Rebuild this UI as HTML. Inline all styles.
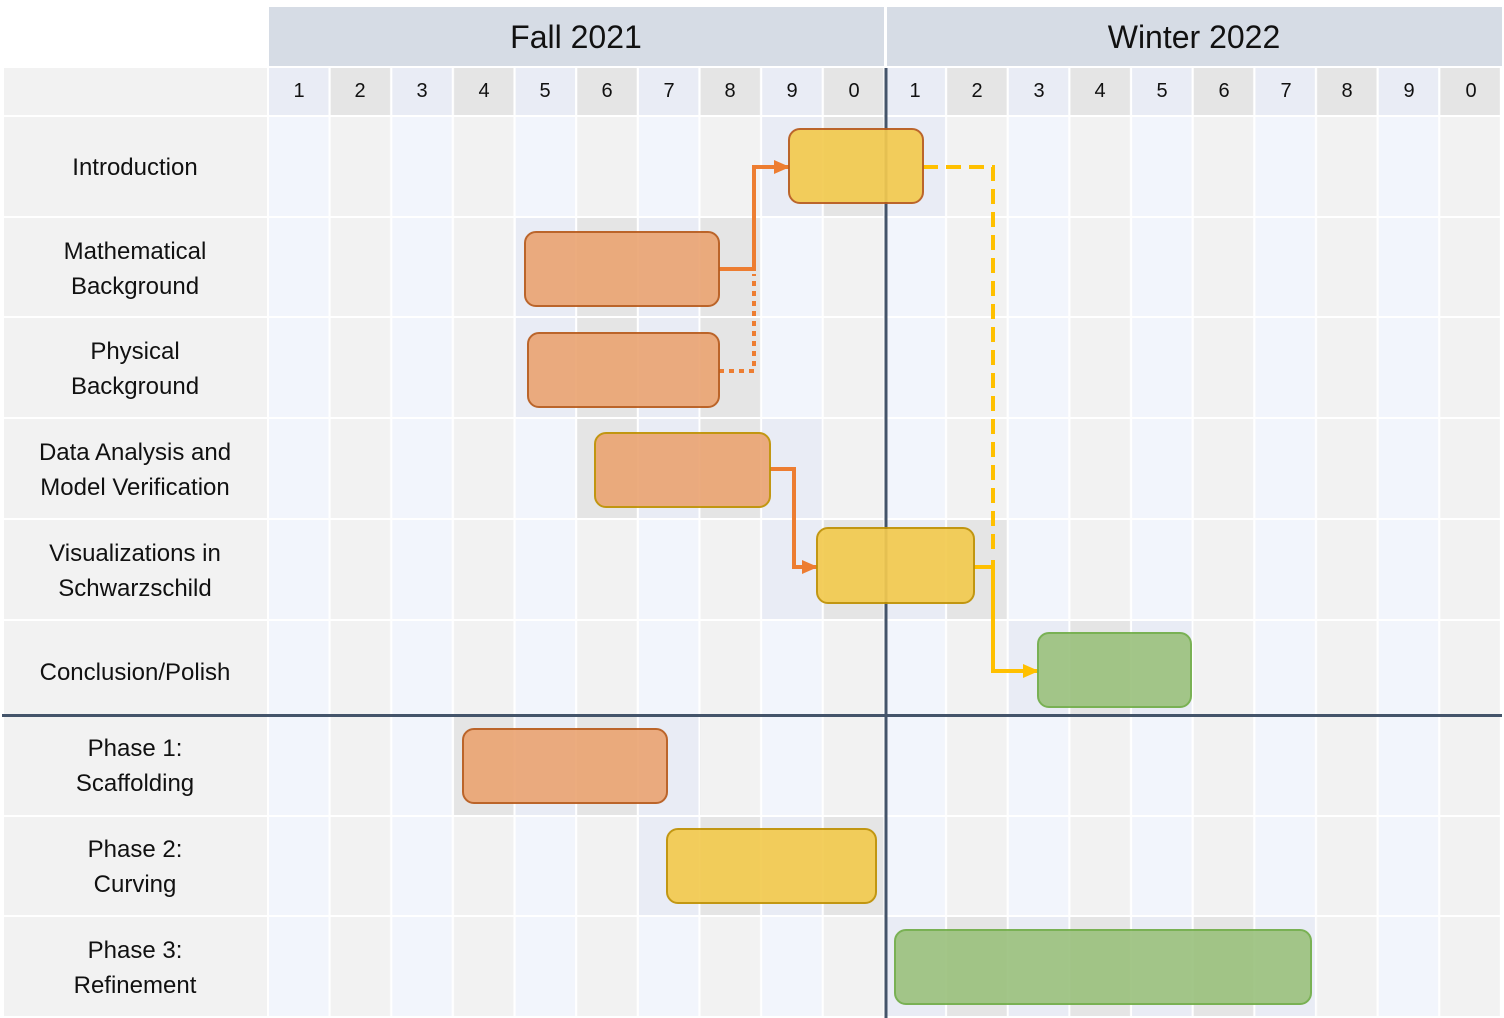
<!DOCTYPE html>
<html><head><meta charset="utf-8"><style>html,body{margin:0;padding:0;background:#fff}svg{display:block}text{font-family:"Liberation Sans",sans-serif;fill:#111}</style></head>
<body>
<svg width="1504" height="1018" viewBox="0 0 1504 1018" xmlns="http://www.w3.org/2000/svg">
<defs>
<pattern id="p1" patternUnits="userSpaceOnUse" x="269" y="0" width="123.3" height="1018">
<rect x="0" y="0" width="59.5" height="1018" fill="#f2f5fc"/>
<rect x="61.65" y="0" width="59.5" height="1018" fill="#f2f2f2"/>
</pattern>
<pattern id="p2" patternUnits="userSpaceOnUse" x="269" y="0" width="123.3" height="1018">
<rect x="0" y="0" width="59.5" height="1018" fill="#e9ecf5"/>
<rect x="61.65" y="0" width="59.5" height="1018" fill="#e5e5e5"/>
</pattern>
<marker id="ao" markerWidth="16" markerHeight="14" refX="15" refY="7" orient="auto" markerUnits="userSpaceOnUse" viewBox="0 0 16 14"><path d="M0,0 L16,7 L0,14z" fill="#ed7d31"/></marker>
<marker id="ay" markerWidth="16" markerHeight="14" refX="15" refY="7" orient="auto" markerUnits="userSpaceOnUse" viewBox="0 0 16 14"><path d="M0,0 L16,7 L0,14z" fill="#ffc000"/></marker>
</defs>
<rect x="269" y="7" width="615" height="59" fill="#d6dce5"/>
<rect x="887" y="7" width="615" height="59" fill="#d6dce5"/>
<text x="576" y="48" font-size="32" text-anchor="middle">Fall 2021</text>
<text x="1194" y="48" font-size="32" text-anchor="middle">Winter 2022</text>
<rect x="4" y="68" width="263" height="47" fill="#f2f2f2"/>
<rect x="269" y="68" width="1233" height="47" fill="url(#p2)"/>
<g font-size="20" text-anchor="middle">
<text x="299" y="97">1</text><text x="360" y="97">2</text><text x="422" y="97">3</text><text x="484" y="97">4</text><text x="545" y="97">5</text><text x="607" y="97">6</text><text x="669" y="97">7</text><text x="730" y="97">8</text><text x="792" y="97">9</text><text x="854" y="97">0</text>
<text x="915" y="97">1</text><text x="977" y="97">2</text><text x="1039" y="97">3</text><text x="1100" y="97">4</text><text x="1162" y="97">5</text><text x="1224" y="97">6</text><text x="1286" y="97">7</text><text x="1347" y="97">8</text><text x="1409" y="97">9</text><text x="1471" y="97">0</text>
</g>
<rect x="4" y="117" width="263" height="899" fill="#f2f2f2"/>
<rect x="269" y="117" width="1233" height="899" fill="url(#p1)"/>
<rect x="762" y="117" width="184" height="99" fill="url(#p2)"/>
<rect x="516" y="218" width="246" height="98" fill="url(#p2)"/>
<rect x="516" y="318" width="246" height="99" fill="url(#p2)"/>
<rect x="577" y="419" width="247" height="99" fill="url(#p2)"/>
<rect x="762" y="520" width="246" height="99" fill="url(#p2)"/>
<rect x="1008" y="621" width="186" height="93" fill="url(#p2)"/>
<rect x="454" y="717" width="247" height="98" fill="url(#p2)"/>
<rect x="639" y="817" width="247" height="98" fill="url(#p2)"/>
<rect x="886" y="917" width="431" height="99" fill="url(#p2)"/>
<g fill="#fff">
<rect x="0" y="216" width="1504" height="2"/><rect x="0" y="316" width="1504" height="2"/><rect x="0" y="417" width="1504" height="2"/><rect x="0" y="518" width="1504" height="2"/><rect x="0" y="619" width="1504" height="2"/><rect x="0" y="815" width="1504" height="2"/><rect x="0" y="915" width="1504" height="2"/>
</g>
<rect x="884.5" y="68" width="3" height="950" fill="#44546a"/>
<rect x="2" y="714" width="1500" height="3" fill="#44546a"/>
<g font-size="24" text-anchor="middle">
<text x="135" y="175">Introduction</text>
<text x="135" y="259">Mathematical</text><text x="135" y="294">Background</text>
<text x="135" y="359">Physical</text><text x="135" y="394">Background</text>
<text x="135" y="460">Data Analysis and</text><text x="135" y="495">Model Verification</text>
<text x="135" y="561">Visualizations in</text><text x="135" y="596">Schwarzschild</text>
<text x="135" y="680">Conclusion/Polish</text>
<text x="135" y="756">Phase 1:</text><text x="135" y="791">Scaffolding</text>
<text x="135" y="857">Phase 2:</text><text x="135" y="892">Curving</text>
<text x="135" y="958">Phase 3:</text><text x="135" y="993">Refinement</text>
</g>
<g fill="none" stroke-width="4">
<path d="M719,269 H754 V167 H789" stroke="#ed7d31" marker-end="url(#ao)"/>
<path d="M719,371 H754 V274" stroke="#ed7d31" stroke-dasharray="5,5"/>
<path d="M770,469 H794 V567 H817" stroke="#ed7d31" marker-end="url(#ao)"/>
<path d="M923,167 H993 V556" stroke="#ffc000" stroke-dasharray="15,8"/>
<path d="M974,567 H993 M993,560 V671 H1038" stroke="#ffc000" marker-end="url(#ay)"/>
</g>
<g stroke-width="2" opacity="0.92">
<rect x="789" y="129" width="134" height="74" rx="11" fill="#f3ca4f" stroke="#b85a1a"/>
<rect x="525" y="232" width="194" height="74" rx="11" fill="#eba574" stroke="#b85a1a"/>
<rect x="528" y="333" width="191" height="74" rx="11" fill="#eba574" stroke="#b85a1a"/>
<rect x="595" y="433" width="175" height="74" rx="11" fill="#eba574" stroke="#bf9000"/>
<rect x="817" y="528" width="157" height="75" rx="11" fill="#f3ca4f" stroke="#bf9000"/>
<rect x="1038" y="633" width="153" height="74" rx="11" fill="#9cc27f" stroke="#70ad47"/>
<rect x="463" y="729" width="204" height="74" rx="11" fill="#eba574" stroke="#b85a1a"/>
<rect x="667" y="829" width="209" height="74" rx="11" fill="#f3ca4f" stroke="#bf9000"/>
<rect x="895" y="930" width="416" height="74" rx="11" fill="#9cc27f" stroke="#70ad47"/>
</g>
</svg>
</body></html>
